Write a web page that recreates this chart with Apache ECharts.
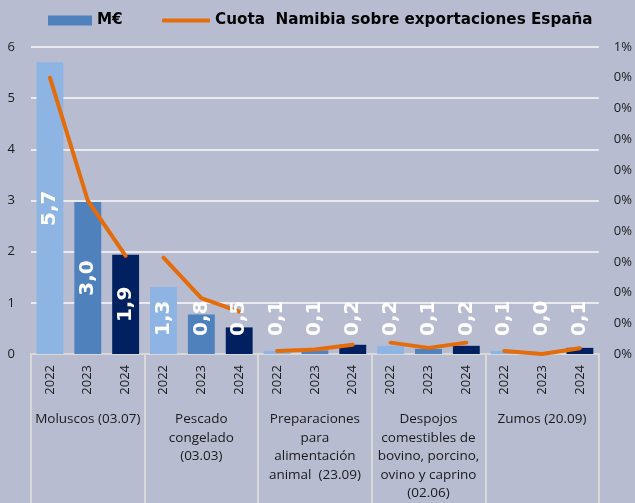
<!DOCTYPE html>
<html style="height: 100%">
<head>
<meta charset="utf-8">
</head>
<body style="height: 100%; margin: 0; background: #b8bcd1">
<div id="container" style="width: 635px; height: 503px"></div>
<script src="https://cdn.jsdelivr.net/npm/echarts@6/dist/echarts.min.js"></script>
<script type="text/javascript">
var years = ['2022', '2023', '2024', '2022', '2023', '2024', '2022', '2023', '2024',
             '2022', '2023', '2024', '2022', '2023', '2024'];
var products = ['Moluscos (03.07)', 'Pescado\ncongelado\n(03.03)',
                'Preparaciones\npara\nalimentación\nanimal  (23.09)',
                'Despojos\ncomestibles de\nbovino, porcino,\novino y caprino\n(02.06)',
                'Zumos (20.09)'];
// M€
var exportsMe = [5.7, 2.97, 1.94, 1.31, 0.77, 0.52, 0.06, 0.07, 0.18, 0.16, 0.1, 0.16, 0.06, 0.01, 0.12];
// cuota Namibia sobre exportaciones España
var share = [0.009, 0.005, 0.0032, 0.00314, 0.00182, 0.00138, 0.0001, 0.00015, 0.0003,
             0.00037, 0.0002, 0.00037, 0.0001, 0.0, 0.00019];
var yearColors = ['#8eb4e3', '#4f81bd', '#002060'];
var lineName = 'Cuota  Namibia sobre exportaciones España';

var dom = document.getElementById('container');
var myChart = echarts.init(dom);

var barData = exportsMe.map(function (v, i) {
    return { value: v, itemStyle: { color: yearColors[i % 3] } };
});
// same values again, only to carry the labels above the line
var labelData = exportsMe.map(function (v) {
    return {
        value: v,
        label: v >= 1.5
            ? { position: 'inside', align: 'center', verticalAlign: 'middle' }
            : { position: 'insideBottom', distance: 18, align: 'left', verticalAlign: 'middle' }
    };
});

var series = [{
    name: 'M€',
    type: 'bar',
    barCategoryGap: '29%',
    z: 2,
    itemStyle: { color: '#4f81bd' },
    data: barData
}, {
    name: 'etiquetas',
    type: 'bar',
    barGap: '-100%',
    barCategoryGap: '29%',
    z: 5,
    silent: true,
    itemStyle: { color: 'rgba(0,0,0,0)' },
    label: {
        show: true,
        rotate: 90,
        color: '#fff',
        fontFamily: 'DejaVu Sans',
        fontWeight: 'bold',
        fontSize: 20,
        formatter: function (p) { return p.value.toFixed(1).replace('.', ','); }
    },
    data: labelData
}];

for (var g = 0; g < products.length; g++) {
    var d = share.map(function (v, i) {
        return Math.floor(i / 3) === g ? v : '-';
    });
    series.push({
        name: lineName,
        type: 'line',
        yAxisIndex: 1,
        z: 3,
        symbol: 'none',
        color: '#e46c0a',
        lineStyle: { color: '#e46c0a', width: 4, cap: 'round' },
        data: d
    });
}

var legendText = { fontFamily: 'DejaVu Sans', fontWeight: 'bold', fontSize: 15.2, color: '#000' };

var option = {
    backgroundColor: '#b8bcd1',
    textStyle: { fontFamily: 'Open Sans' },
    legend: [{
        top: 8,
        left: 43,
        itemWidth: 44,
        itemHeight: 10,
        textStyle: legendText,
        data: [{ name: 'M€', icon: 'rect' }]
    }, {
        top: 8,
        left: 157,
        itemWidth: 48,
        itemHeight: 4,
        textStyle: legendText,
        data: [{ name: lineName, icon: 'roundRect' }]
    }],
    grid: { left: 31, right: 35, top: 47, bottom: 149 },
    xAxis: [{
        type: 'category',
        data: years,
        axisLine: { lineStyle: { color: '#d9d9d9', width: 2 } },
        axisTick: { show: false },
        axisLabel: { rotate: 90, fontSize: 13, color: '#1a1a1a', margin: 11, interval: 0 }
    }, {
        type: 'category',
        position: 'bottom',
        data: products,
        axisLine: { show: false },
        axisTick: { show: true, length: 150, lineStyle: { color: '#d9d9d9', width: 2 } },
        axisLabel: { fontSize: 13.5, color: '#1a1a1a', margin: 56, lineHeight: 18.5, interval: 0 }
    }],
    yAxis: [{
        type: 'value',
        min: 0,
        max: 6,
        interval: 1,
        axisLine: { show: false },
        axisTick: { show: false },
        axisLabel: { fontSize: 13, color: '#1a1a1a', margin: 16 },
        splitLine: { lineStyle: { color: '#eaeaf0', width: 2 } }
    }, {
        type: 'value',
        min: 0,
        max: 0.01,
        interval: 0.001,
        axisLine: { show: false },
        axisTick: { show: false },
        splitLine: { show: false },
        axisLabel: {
            fontSize: 13, color: '#1a1a1a', margin: 15,
            formatter: function (v) { return Math.floor(v * 100 + 1e-9) + '%'; }
        }
    }],
    series: series
};

myChart.setOption(option, true);
</script>
</body>
</html>
